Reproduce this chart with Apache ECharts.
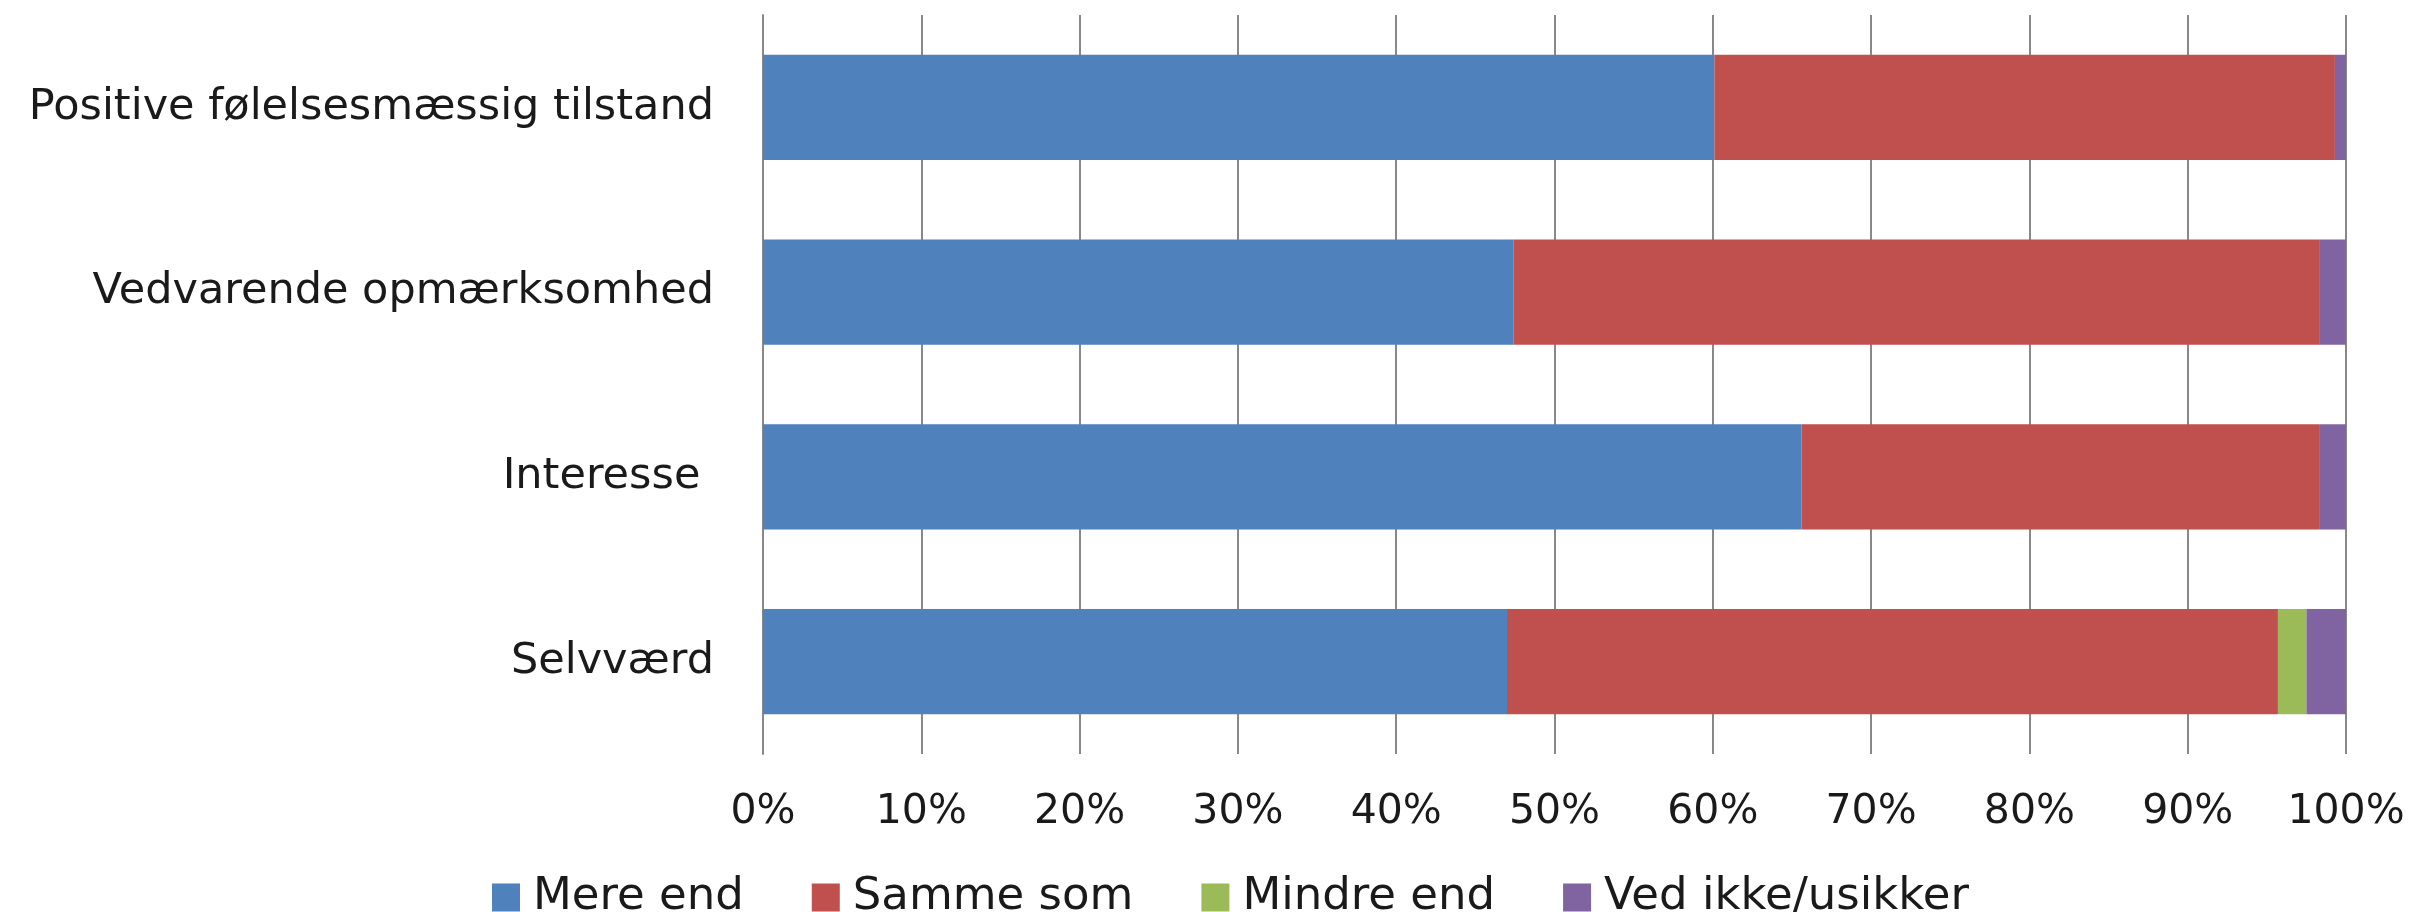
<!DOCTYPE html>
<html>
<head>
<meta charset="utf-8">
<script src="https://cdn.jsdelivr.net/npm/echarts@6/dist/echarts.min.js"></script>
<style>
html,body{margin:0;padding:0;background:#fff;}
#chart{width:2412px;height:912px;}
</style>
</head>
<body>
<div id="chart"></div>
<script>
// Categories listed bottom to top (ECharts draws first category at bottom)
const categories = ["Selvværd", "Interesse ", "Vedvarende opmærksomhed", "Positive følelsesmæssig tilstand"];
const seriesNames = ["Mere end", "Samme som", "Mindre end", "Ved ikke/usikker"];
const mereEnd = [47.0, 65.6, 47.4, 60.1];
const sammeSom = [48.7, 32.7, 50.9, 39.2];
const mindreEnd = [1.8, 0, 0, 0];
const vedIkke = [2.5, 1.7, 1.7, 0.7];
const xTicks = [0, 10, 20, 30, 40, 50, 60, 70, 80, 90, 100];

const colors = ["#4F81BD", "#C0504D", "#9BBB59", "#8064A2"];
const values = [mereEnd, sammeSom, mindreEnd, vedIkke];
const font = "DejaVu Sans";

const chart = echarts.init(document.getElementById('chart'));
chart.setOption({
  animation: false,
  backgroundColor: '#ffffff',
  grid: { left: 763, right: 66, top: 15, bottom: 158 },
  legend: {
    left: 487, top: 870,
    itemWidth: 28, itemHeight: 28, itemGap: 68,
    icon: 'rect',
    data: seriesNames,
    textStyle: { fontFamily: font, fontSize: 45, color: '#1a1a1a', padding: [0, 0, 0, 8] }
  },
  xAxis: {
    type: 'value', min: xTicks[0], max: xTicks[xTicks.length - 1], interval: 10,
    axisLine: { show: false }, axisTick: { show: false },
    splitLine: { show: true, lineStyle: { color: '#888888', width: 2 } },
    axisLabel: { formatter: '{value}%', fontFamily: font, fontSize: 41, color: '#1a1a1a', margin: 38 }
  },
  yAxis: {
    type: 'category', data: categories,
    axisLine: { show: true, lineStyle: { color: '#888888', width: 2 } },
    axisTick: { show: false },
    axisLabel: { fontFamily: font, fontSize: 43, color: '#1a1a1a', margin: 49 }
  },
  series: seriesNames.map((name, i) => ({
    name: name, type: 'bar', stack: 'total',
    barCategoryGap: '43%',
    itemStyle: { color: colors[i] },
    data: values[i]
  }))
});
</script>
</body>
</html>
